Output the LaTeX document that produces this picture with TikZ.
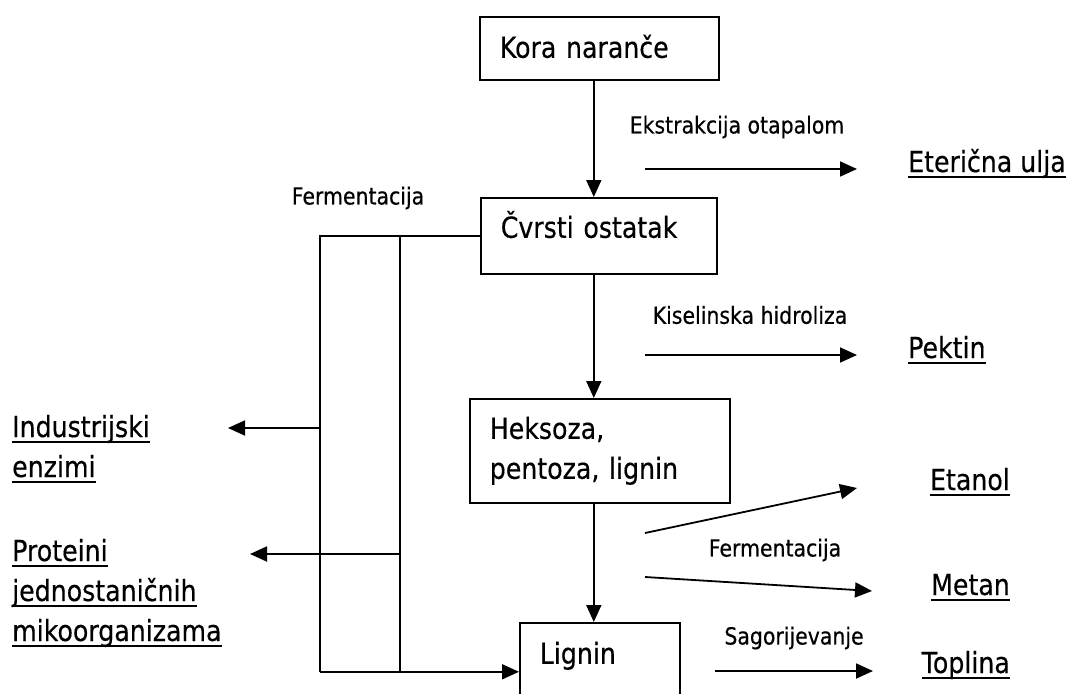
\documentclass[tikz,border=0pt]{standalone}
\usepackage{fontspec}
\setmainfont{DejaVu Sans}[FakeStretch=0.87, FakeBold=0.4]
\usepackage{tikz}
\usetikzlibrary{positioning,arrows.meta}

\newcommand{\bigtxt}{\fontsize{29}{40}\selectfont}
\newcommand{\smalltxt}{\fontsize{23.5}{28}\selectfont}
\newcommand{\undl}[1]{\setbox0=\hbox{#1}\rlap{\rule[-6pt]{\wd0}{1.8pt}}\box0}

\begin{document}
\begin{tikzpicture}[x=1pt, y=-1pt,
        procbox/.style = {shape=rectangle, draw, line width=1.6pt, anchor=north west,
                          align=left, inner xsep=20pt, font=\bigtxt},
        product/.style = {font=\bigtxt, align=left, inner sep=0pt},
        proclabel/.style = {font=\smalltxt, inner sep=0pt},
        arr/.style = {line width=1.8pt, -{Triangle[length=17pt, width=15pt]}},
        bus/.style = {line width=1.4pt}]
    \useasboundingbox (0,0) rectangle (1070,693);
    \clip (0,0) rectangle (1070,693);

    % process boxes
    \node[procbox, text width=199pt, minimum height=63pt, text height=22pt, text depth=3pt] (kora) at (479,16) {Kora naranče};
    \node[procbox, text width=196pt, minimum height=76pt, text height=22pt, text depth=18pt] (cvrsti) at (480,197) {Čvrsti ostatak};
    \node[procbox, text width=220pt, minimum height=104pt] (heks) at (469,398) {Heksoza,\\pentoza, lignin};
    \node[procbox, text width=120pt, minimum height=98pt, text height=22pt, text depth=38pt] (lignin) at (519,622) {Lignin};

    % products
    \node[product, anchor=base west] (eter) at (908,172) {\undl{Eterična ulja}};
    \node[product, anchor=base west] (pektin) at (908,358) {\undl{Pektin}};
    \node[product, anchor=base east] (etanol) at (1010,490) {\undl{Etanol}};
    \node[product, anchor=base east] (metan) at (1010,595) {\undl{Metan}};
    \node[product, anchor=base east] (toplina) at (1010,673) {\undl{Toplina}};
    \node[product, anchor=west] (enzimi) at (12,449) {\undl{Industrijski}\\\undl{enzimi}};
    \node[product, anchor=west] (proteini) at (12,593) {\undl{Proteini}\\\undl{jednostaničnih}\\\undl{mikoorganizama}};

    % process labels
    \node[proclabel] (ekstr) at (737,127) {Ekstrakcija otapalom};
    \node[proclabel] (kisel) at (750,315) {Kiselinska hidroliza};
    \node[proclabel] (ferm1) at (358,198) {Fermentacija};
    \node[proclabel] (ferm2) at (775,550) {Fermentacija};
    \node[proclabel] (sagor) at (794,638) {Sagorijevanje};

    % main line
    \draw[arr] ([xshift=-5.5pt]kora.south) -- ([xshift=-5.5pt]kora.south |- cvrsti.north);
    \draw[arr] ([xshift=-5pt]cvrsti.south) -- ([xshift=-5pt]cvrsti.south |- heks.north);
    \draw[arr] ([xshift=-6pt]heks.south) -- ([xshift=-6pt]heks.south |- lignin.north);

    % side arrows
    \coordinate (ekA) at (645,169);
    \coordinate (ekB) at (857,169);
    \coordinate (kiA) at (645,355);
    \coordinate (kiB) at (857,355);
    \coordinate (etA) at (645,533);
    \coordinate (etB) at (857,488);
    \coordinate (meA) at (645,577);
    \coordinate (meB) at (872,591);
    \coordinate (toA) at (715,671);
    \coordinate (toB) at (873,671);
    \draw[arr] (ekA) -- (ekB);
    \draw[arr] (kiA) -- (kiB);
    \draw[arr] (etA) -- (etB);
    \draw[arr] (meA) -- (meB);
    \draw[arr] (toA) -- (toB);

    % fermentation bus on the left
    \coordinate (busA) at (320,237);
    \coordinate (busB) at (400,237);
    \coordinate (enzA) at (228,428);
    \coordinate (protA) at (250,554);
    \draw[bus] (cvrsti.west) -- (busA |- cvrsti.west) -- (busA |- lignin.west);
    \draw[bus] (busB |- cvrsti.west) -- (busB |- lignin.west);
    \draw[arr] (busA |- lignin.west) -- (lignin.west);
    \draw[arr] (busA |- enzA) -- (enzA);
    \draw[arr] (busB |- protA) -- (protA);
\end{tikzpicture}
\end{document}
